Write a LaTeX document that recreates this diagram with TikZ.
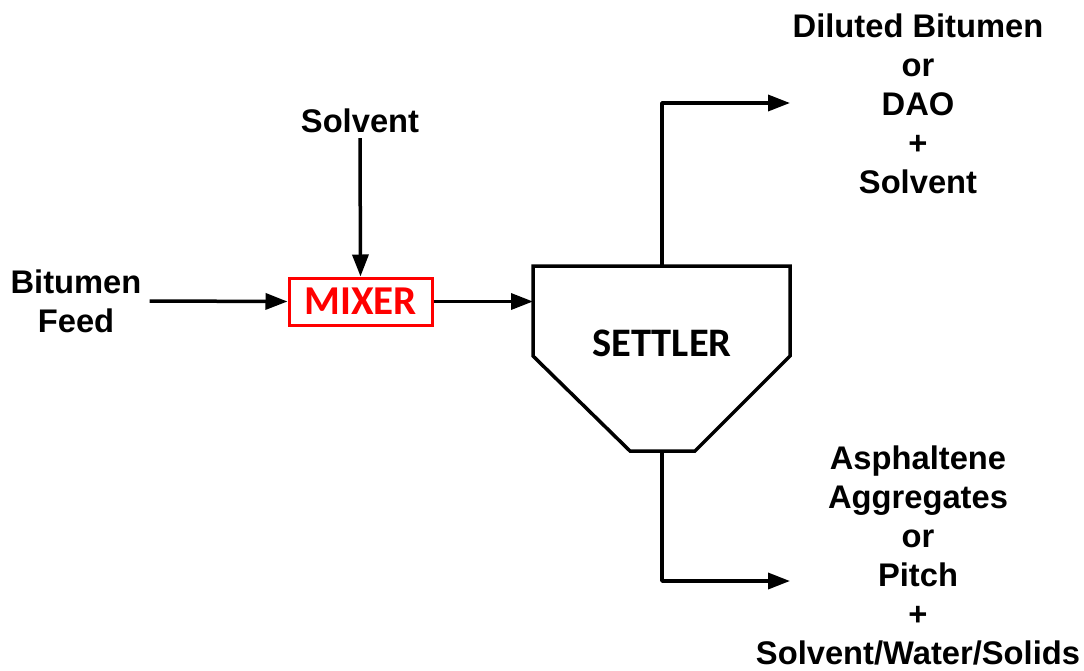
\documentclass[tikz,border=0pt]{standalone}
\usepackage{fontspec}
\setmainfont{Liberation Sans}
\newfontfamily\calibri{Carlito}
\usetikzlibrary{arrows.meta}
\begin{document}
\begin{tikzpicture}[x=1pt,y=-1pt,
  lbl/.style={font=\fontsize{32.7}{39}\selectfont\bfseries, align=center, inner sep=0pt},
  flow/.style={line width=3.5pt, line join=round, -{Triangle[length=22pt,width=16pt]}},
  unitbox/.style={line width=3.5pt, line join=miter},
  unitname/.style={font=\calibri\bfseries\fontsize{41}{48}\selectfont, inner sep=0pt}
]
\useasboundingbox[fill=white] (0,0) rectangle (1084,670);
% labels
\node[lbl] (feed) at (76,301) {Bitumen\\Feed};
\node[lbl] (solv) at (360,121) {Solvent};
\node[lbl] (top) at (918,103.5) {Diluted Bitumen\\or\\DAO\\+\\Solvent};
\node[lbl] (bot) at (918,555) {Asphaltene\\Aggregates\\or\\Pitch\\+\\Solvent/Water/Solids};
% mixer
\node[draw=red, line width=3pt, minimum width=143pt, minimum height=47pt, text=red, unitname] (mixer) at (360.5,301.5) {MIXER};
% settler
\draw[unitbox] (533,266) -- (790,266) -- (790,356) -- (695,451) -- (630,451) -- (533,356) -- cycle;
\node[unitname, font=\calibri\bfseries\fontsize{40.5}{48}\selectfont] (settler) at (662,343) {SETTLER};
\coordinate (sin) at (533,301.5);
\coordinate (stop) at (662,266);
\coordinate (sbot) at (662,451);
\coordinate (topend) at (790,103);
\coordinate (botend) at (790,581);
% connectors
\draw[flow] ([xshift=8pt]feed.east) -- (mixer.west);
\draw[flow] ([yshift=-5pt]solv.south) -- (mixer.north);
\draw[flow] (mixer.east) -- (sin);
\draw[flow] (stop) |- (topend);
\draw[flow] (sbot) |- (botend);
\end{tikzpicture}
\end{document}
